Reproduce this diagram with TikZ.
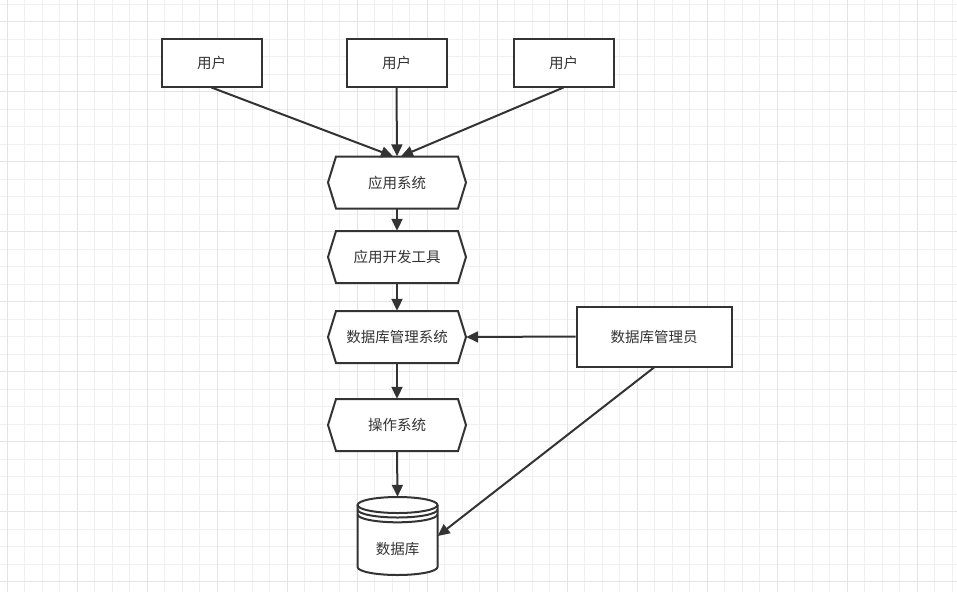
\documentclass[tikz,border=0pt]{standalone}
\usepackage{fontspec}
\newfontfamily\cjk{Noto Sans CJK SC}
\usetikzlibrary{arrows.meta,calc}
\definecolor{ln}{HTML}{333333}
\definecolor{gminor}{HTML}{F0F0F0}
\definecolor{gmajor}{HTML}{E4E4E4}
\begin{document}
\begin{tikzpicture}[x=1pt,y=-1pt,
  txt/.style={font=\cjk\fontsize{14.5}{15}\selectfont,text=ln},
  box/.style={txt,draw=ln,line width=2pt,fill=white,inner sep=0pt},
  hexbox/.style={txt,minimum width=138pt,minimum height=52pt,inner sep=0pt},
  hexline/.style={draw=ln,line width=2pt,fill=white},
  arr/.style={draw=ln,line width=2pt,-{Triangle[length=12pt,width=11pt]}}]
\path[use as bounding box] (0,0) rectangle (957,592);
\fill[white] (0,0) rectangle (957,592);
% grid
\foreach \i in {0,...,54} \draw[gminor,line width=1pt] ({7.3+17.5*\i},0) -- ({7.3+17.5*\i},592);
\foreach \i in {0,...,33} \draw[gminor,line width=1pt] (0,{4.2+17.5*\i}) -- (957,{4.2+17.5*\i});
\foreach \i in {0,...,13} \draw[gmajor,line width=1pt] ({7.3+70*\i},0) -- ({7.3+70*\i},592);
\foreach \i in {0,...,8} \draw[gmajor,line width=1pt] (0,{21.7+70*\i}) -- (957,{21.7+70*\i});

% users
\node[box,minimum width=100pt,minimum height=48pt] (u1) at (211.5,62.5) {用户};
\node[box,minimum width=100pt,minimum height=48pt] (u2) at (396.5,62.5) {用户};
\node[box,minimum width=100pt,minimum height=48pt] (u3) at (563.5,62.5) {用户};

% hexagons
\newcommand\hexshape[3]{%
  \path[hexline] ({#2-69},#3) -- ({#2-61},{#3-26}) -- ({#2+61},{#3-26}) -- ({#2+69},#3) -- ({#2+61},{#3+26}) -- ({#2-61},{#3+26}) -- cycle;
  \node[hexbox] (#1) at (#2,#3) {};}
\hexshape{h1}{397}{182.5}
\node[txt] at (h1) {应用系统};
\hexshape{h2}{397}{257}
\node[txt] at (h2) {应用开发工具};
\hexshape{h3}{397}{337}
\node[txt] at (h3) {数据库管理系统};
\hexshape{h4}{397}{425}
\node[txt] at (h4) {操作系统};

% admin
\node[box,minimum width=155pt,minimum height=60pt] (adm) at (654,336.5) {数据库管理员};

% database cylinder
\fill[white] (357.5,505) -- (357.5,567) arc[start angle=180,end angle=0,x radius=40,y radius=8] -- (437.5,505) -- cycle;
\draw[ln,line width=2pt,fill=white] (397.5,505) ellipse[x radius=40,y radius=8];
\draw[ln,line width=2pt] (357.5,509.5) arc[start angle=180,end angle=0,x radius=40,y radius=8];
\draw[ln,line width=2pt] (357.5,514.3) arc[start angle=180,end angle=0,x radius=40,y radius=8];
\draw[ln,line width=2pt] (357.5,505) -- (357.5,567) arc[start angle=180,end angle=0,x radius=40,y radius=8] -- (437.5,505);
\node[minimum width=80pt,minimum height=78pt,inner sep=0pt] (db) at (397.5,536) {};
\node[txt] at (397.5,549) {数据库};

% connectors
\draw[arr] (u1.south) -- ($(h1.north)+(-4,0)$);
\draw[arr] (u2.south) -- (h1.north);
\draw[arr] (u3.south) -- ($(h1.north)+(4,0)$);
\draw[arr] (h1.south) -- (h2.north);
\draw[arr] (h2.south) -- (h3.north);
\draw[arr] (h3.south) -- (h4.north);
\draw[arr] (h4.south) -- (db.north);
\draw[arr] (adm.west) -- (h3.east);
\draw[arr] (adm.south) -- (db.east);
\end{tikzpicture}
\end{document}
